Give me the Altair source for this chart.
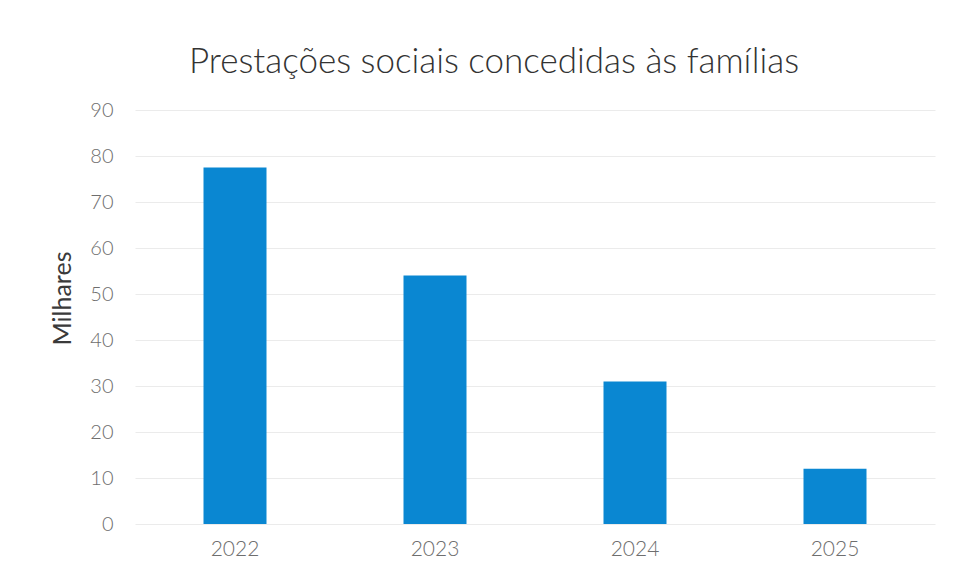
import altair as alt
import pandas as pd

years = ["2022", "2023", "2024", "2025"]
values = [77.5, 54.0, 31.0, 12.0]

df = pd.DataFrame({"ano": years, "valor": values})

chart = alt.Chart(df).mark_bar(color="#0A87D2").encode(
    x=alt.X("ano:N", sort=years, title=None,
            scale=alt.Scale(paddingInner=0.685, paddingOuter=0.3425),
            axis=alt.Axis(labelAngle=0, labelFontSize=21, labelColor="#6e6e6e",
                          labelFont="Lato", labelFontWeight=300, labelPadding=14,
                          ticks=False, domain=False, grid=False)),
    y=alt.Y("valor:Q", title="Milhares",
            scale=alt.Scale(domain=[0, 90]),
            axis=alt.Axis(values=list(range(0, 100, 10)), labelFontSize=20,
                          labelColor="#6e6e6e", labelFont="Lato", labelFontWeight=300,
                          labelPadding=22, ticks=False, domain=False, gridColor="#ebebeb",
                          titleFont="Lato", titleFontSize=25, titleFontWeight="normal",
                          titleColor="#3a3a3a", titleAngle=-90,
                          titleX=-73, titleY=188, titleAlign="center", titleBaseline="middle")),
).properties(
    width=800,
    height=414,
    title=alt.TitleParams("Prestações sociais concedidas às famílias", font="Lato",
                          fontSize=35, fontWeight=300, color="#333333",
                          anchor="middle", dx=-41, offset=20),
    autosize=alt.AutoSizeParams(type="none"),
    padding={"left": 127, "top": 102, "right": 15, "bottom": 49},
).configure_view(stroke="transparent", strokeWidth=0)

chart.save("out.html", embed_options={"renderer": "svg", "actions": False})
